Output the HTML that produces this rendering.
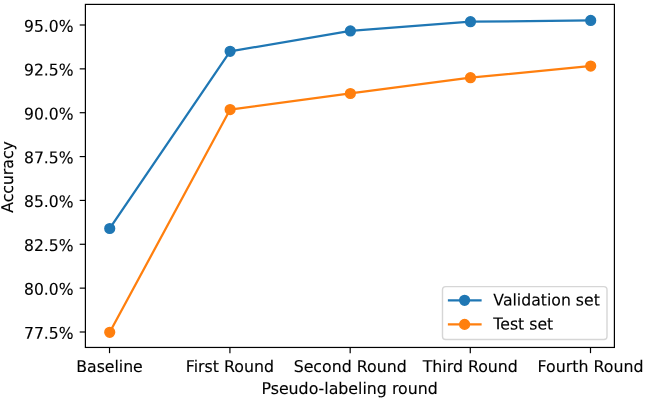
<!DOCTYPE html>
<html lang="en"><head><meta charset="utf-8"><title>Pseudo-labeling accuracy</title>
<style>html,body{margin:0;padding:0;background:#fff;overflow:hidden}svg{display:block}text{font-family:"DejaVu Sans","Liberation Sans",sans-serif;font-size:16.20px;fill:#000;stroke:#000;stroke-width:0.12px;text-rendering:geometricPrecision}</style></head><body>
<svg width="645" height="399" viewBox="0 0 645 399">
<rect width="645" height="399" fill="#fff"/>
<g stroke="#000" stroke-width="1.200" fill="none">
<line x1="109.53" y1="347.45" x2="109.53" y2="353.15"/>
<line x1="229.92" y1="347.45" x2="229.92" y2="353.15"/>
<line x1="350.18" y1="347.45" x2="350.18" y2="353.15"/>
<line x1="470.28" y1="347.45" x2="470.28" y2="353.15"/>
<line x1="590.50" y1="347.45" x2="590.50" y2="353.15"/>
<line x1="79.70" y1="332.00" x2="85.40" y2="332.00"/>
<line x1="79.70" y1="288.14" x2="85.40" y2="288.14"/>
<line x1="79.70" y1="244.28" x2="85.40" y2="244.28"/>
<line x1="79.70" y1="200.43" x2="85.40" y2="200.43"/>
<line x1="79.70" y1="156.57" x2="85.40" y2="156.57"/>
<line x1="79.70" y1="112.71" x2="85.40" y2="112.71"/>
<line x1="79.70" y1="68.86" x2="85.40" y2="68.86"/>
<line x1="79.70" y1="25.00" x2="85.40" y2="25.00"/>
</g>
<text x="109.53" y="372.00" text-anchor="middle" transform="matrix(0.9691 0.0006 0 1 3.381 -0.0657)">Baseline</text>
<text x="229.92" y="372.00" text-anchor="middle" transform="matrix(0.9753 0.0006 0 1 5.677 -0.1380)">First Round</text>
<text x="350.18" y="372.00" text-anchor="middle" transform="matrix(0.9753 0.0006 0 1 8.646 -0.2101)">Second Round</text>
<text x="470.28" y="372.00" text-anchor="middle" transform="matrix(0.9753 0.0006 0 1 11.612 -0.2822)">Third Round</text>
<text x="590.50" y="372.00" text-anchor="middle" transform="matrix(0.9753 0.0006 0 1 14.580 -0.3543)">Fourth Round</text>
<text x="73.50" y="338.70" text-anchor="end" transform="matrix(0.9630 0.0006 0 1 2.722 -0.0294)">77.5%</text>
<text x="73.50" y="294.84" text-anchor="end" transform="matrix(0.9630 0.0006 0 1 2.722 -0.0294)">80.0%</text>
<text x="73.50" y="250.98" text-anchor="end" transform="matrix(0.9630 0.0006 0 1 2.722 -0.0294)">82.5%</text>
<text x="73.50" y="207.13" text-anchor="end" transform="matrix(0.9630 0.0006 0 1 2.722 -0.0294)">85.0%</text>
<text x="73.50" y="163.27" text-anchor="end" transform="matrix(0.9630 0.0006 0 1 2.722 -0.0294)">87.5%</text>
<text x="73.50" y="119.41" text-anchor="end" transform="matrix(0.9630 0.0006 0 1 2.722 -0.0294)">90.0%</text>
<text x="73.50" y="75.56" text-anchor="end" transform="matrix(0.9630 0.0006 0 1 2.722 -0.0294)">92.5%</text>
<text x="73.50" y="31.70" text-anchor="end" transform="matrix(0.9630 0.0006 0 1 2.722 -0.0294)">95.0%</text>
<text x="349.60" y="394.00" text-anchor="middle" transform="matrix(0.9753 0.0006 0 1 8.632 -0.2098)">Pseudo-labeling round</text>
<text transform="translate(13.10 177.00) rotate(-90) matrix(0.9691 0.0006 0 1 0 0)" text-anchor="middle">Accuracy</text>
<polyline points="109.73,228.50 230.12,51.33 350.38,30.93 470.48,21.72 590.70,20.42" fill="none" stroke="#1f77b4" stroke-width="2.250" stroke-linejoin="round" stroke-linecap="square"/>
<g fill="#1f77b4" stroke="#1f77b4" stroke-width="1.600">
<circle cx="109.73" cy="228.50" r="4.800"/>
<circle cx="230.12" cy="51.33" r="4.800"/>
<circle cx="350.38" cy="30.93" r="4.800"/>
<circle cx="470.48" cy="21.72" r="4.800"/>
<circle cx="590.70" cy="20.42" r="4.800"/>
</g>
<polyline points="109.73,332.30 230.12,109.54 350.38,93.48 470.48,77.72 590.70,66.08" fill="none" stroke="#ff7f0e" stroke-width="2.250" stroke-linejoin="round" stroke-linecap="square"/>
<g fill="#ff7f0e" stroke="#ff7f0e" stroke-width="1.600">
<circle cx="109.73" cy="332.30" r="4.800"/>
<circle cx="230.12" cy="109.54" r="4.800"/>
<circle cx="350.38" cy="93.48" r="4.800"/>
<circle cx="470.48" cy="77.72" r="4.800"/>
<circle cx="590.70" cy="66.08" r="4.800"/>
</g>
<rect x="85.40" y="4.40" width="529.00" height="343.05" fill="none" stroke="#000" stroke-width="1.200" stroke-linejoin="miter"/>
<rect x="442.50" y="286.60" width="164.50" height="52.90" rx="3.20" fill="#fff" fill-opacity="0.8" stroke="#ccc" stroke-opacity="0.8" stroke-width="1.400"/>
<line x1="449.00" y1="300.30" x2="480.50" y2="300.30" stroke="#1f77b4" stroke-width="2.250" stroke-linecap="square"/>
<circle cx="464.60" cy="300.30" r="4.800" fill="#1f77b4" stroke="#1f77b4" stroke-width="1.600"/>
<text x="493.40" y="305.50" transform="matrix(0.9691 0.0006 0 1 15.228 -0.3281)">Validation set</text>
<line x1="449.00" y1="324.40" x2="480.50" y2="324.40" stroke="#ff7f0e" stroke-width="2.250" stroke-linecap="square"/>
<circle cx="464.60" cy="324.40" r="4.800" fill="#ff7f0e" stroke="#ff7f0e" stroke-width="1.600"/>
<text x="493.40" y="329.40" transform="matrix(0.9691 0.0006 0 1 15.228 -0.3140)">Test set</text>
</svg></body></html>
